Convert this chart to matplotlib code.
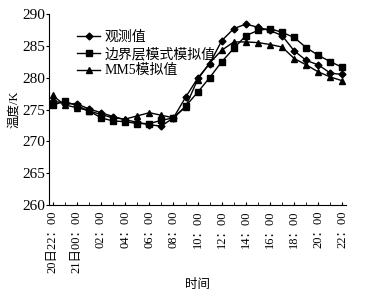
import matplotlib
matplotlib.use('Agg')
import matplotlib.pyplot as plt
import numpy as np

plt.rcParams['font.family'] = ['Liberation Serif', 'Noto Sans CJK SC']

# hourly data, 20日22:00 -> 21日22:00
hours = np.arange(25)
obs = [276.4, 275.9, 275.9, 275.1, 274.5, 273.9, 273.4, 273.0, 272.6, 272.4, 273.7,
       276.9, 279.9, 282.2, 285.8, 287.7, 288.4, 287.9, 287.4, 286.6, 284.2,
       282.7, 282.0, 280.7, 280.5]
bl = [275.7, 276.3, 275.6, 274.8, 273.7, 273.2, 273.1, 272.8, 272.8, 273.3, 273.7,
      275.5, 277.7, 280.0, 282.5, 284.6, 286.6, 287.4, 287.7, 287.1, 286.3,
      284.7, 283.5, 282.5, 281.6]
mm5 = [277.2, 275.7, 275.3, 274.8, 274.2, 273.7, 273.5, 274.0, 274.5, 274.1, 273.7,
       275.4, 279.7, 282.3, 284.3, 285.6, 285.6, 285.5, 285.2, 284.8, 283.0,
       282.0, 280.9, 280.1, 279.5]

tick_pos = np.arange(0, 25, 2)
tick_labels = ['20日22：00', '21日00：00', '02：00', '04：00', '06：00', '08：00', '10：00',
               '12：00', '14：00', '16：00', '18：00', '20：00', '22：00']

fig = plt.figure(figsize=(3.69, 2.96), dpi=100)
ax = fig.add_axes([0.133, 0.307, 0.805, 0.646])

ax.plot(hours, obs, 'k-', marker='D', markersize=3.5, lw=1, label='观测值')
ax.plot(hours, bl, 'k-', marker='s', markersize=5, lw=1, label='边界层模式模拟值')
ax.plot(hours, mm5, 'k-', marker='^', markersize=5, lw=1, label='MM5模拟值')

ax.set_xlim(-0.3, 24.3)
ax.set_ylim(260, 290)
ax.set_yticks(np.arange(260, 291, 5))
ax.set_xticks(tick_pos)
ax.set_xticklabels(tick_labels, rotation=90, fontsize=9)
ax.set_xticks(hours, minor=True)
ax.tick_params(axis='x', which='both', direction='in', length=2, pad=4)
ax.tick_params(axis='y', direction='out', length=2, labelsize=11, pad=1)
for s in ['top', 'right']:
    ax.spines[s].set_visible(False)

ax.set_ylabel('温度/K', fontsize=9, labelpad=1)
ax.set_xlabel('时间', fontsize=9, labelpad=4)
ax.legend(loc='upper left', bbox_to_anchor=(0.07, 0.95), frameon=False, fontsize=10,
          handlelength=1.7, handletextpad=0.3, labelspacing=0.25, borderpad=0)

fig.savefig('out.png', dpi=100)
